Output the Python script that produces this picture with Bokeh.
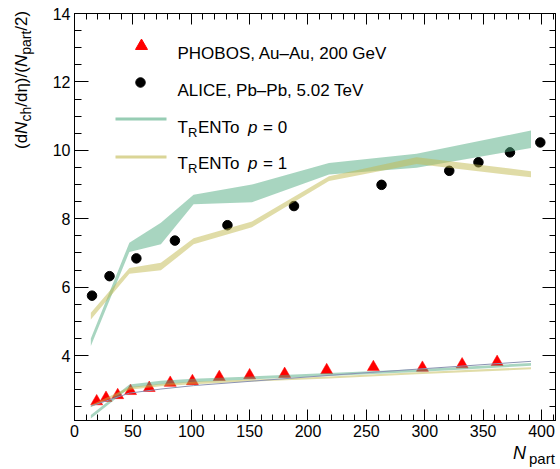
import numpy as np
from bokeh.plotting import figure
from bokeh.layouts import row, column
from bokeh.models import (Range1d, LinearAxis, SingleIntervalTicker, Label,
                          CustomJSTickFormatter, Div)
from bokeh.embed import file_html
from bokeh.resources import INLINE

# ---------------- data ----------------
phobos_npart = [19, 27, 37, 48, 64, 82, 101, 124, 150, 180, 216, 256, 298, 332, 362]
phobos_val = [2.66, 2.76, 2.84, 2.96, 3.05, 3.20, 3.25, 3.37, 3.42, 3.46, 3.57, 3.66, 3.64, 3.74, 3.81]

alice_npart = [15, 30, 53, 86, 131, 188, 263, 321, 346, 373, 399]
alice_val = [5.75, 6.32, 6.84, 7.36, 7.81, 8.37, 8.99, 9.40, 9.65, 9.94, 10.23]

trento_npart = [14, 47, 74, 102, 152, 218, 293, 391]
# 5.02 TeV (upper) bands
p0_hi_lo = [4.28, 7.03, 7.25, 8.42, 8.48, 9.29, 9.49, 10.07]
p0_hi_hi = [4.50, 7.30, 7.88, 8.70, 9.00, 9.63, 9.90, 10.58]
p1_hi_lo = [5.05, 6.39, 6.49, 7.25, 7.75, 9.10, 9.60, 9.21]
p1_hi_hi = [5.25, 6.56, 6.71, 7.43, 7.92, 9.24, 9.80, 9.39]
# 200 GeV (lower) bands
p0_lo_lo = [2.16, 3.05, 3.15, 3.22, 3.30, 3.40, 3.52, 3.70]
p0_lo_hi = [2.26, 3.15, 3.26, 3.32, 3.39, 3.49, 3.60, 3.78]
p1_lo_lo = [2.49, 3.00, 3.10, 3.16, 3.24, 3.33, 3.45, 3.60]
p1_lo_hi = [2.55, 3.08, 3.17, 3.23, 3.30, 3.39, 3.51, 3.66]
ref_line = [2.52, 2.90, 3.02, 3.12, 3.25, 3.42, 3.60, 3.83]

x_ticks_interval = 50
y_ticks_interval = 2

GREEN = "#52ac82"
YELLOW = "#c2b950"
FONT = "Liberation Sans"

# page geometry
YDIV_W = 40                    # column holding the rotated y title
FL, FR, FT, FB = 74, 555, 13, 420   # frame edges in page pixels
PW, PH = 560 - YDIV_W, 447     # figure size
XDIV_H = 469 - PH

p = figure(width=PW, height=PH, output_backend="svg", toolbar_location=None,
           x_range=Range1d(0, 412), y_range=Range1d(2.1, 14),
           min_border_left=FL - YDIV_W, min_border_right=560 - FR,
           min_border_top=FT, min_border_bottom=PH - FB)
p.grid.visible = False
p.outline_line_color = "black"
p.outline_line_width = 1
p.background_fill_color = "white"
p.border_fill_color = "white"
p.margin = 0

p.xaxis.ticker = SingleIntervalTicker(interval=x_ticks_interval, num_minor_ticks=5)
p.yaxis.ticker = SingleIntervalTicker(interval=y_ticks_interval, num_minor_ticks=4)

def style_axis(ax, major_in, minor_in, labels=True):
    ax.major_tick_in = major_in
    ax.major_tick_out = 0
    ax.minor_tick_in = minor_in
    ax.minor_tick_out = 0
    ax.axis_line_color = "black"
    ax.major_tick_line_color = "black"
    ax.minor_tick_line_color = "black"
    ax.major_label_text_font = FONT
    ax.major_label_text_font_size = "16px"
    ax.major_label_text_color = "black"
    ax.major_label_standoff = 4
    if not labels:
        ax.formatter = CustomJSTickFormatter(code="return ''")
        ax.major_label_text_font_size = "0px"
        ax.major_label_standoff = 0

style_axis(p.xaxis[0], 11, 6)
style_axis(p.yaxis[0], 14, 7)
top = LinearAxis(ticker=SingleIntervalTicker(interval=x_ticks_interval, num_minor_ticks=5))
right = LinearAxis(ticker=SingleIntervalTicker(interval=y_ticks_interval, num_minor_ticks=4))
style_axis(top, 11, 6, labels=False)
style_axis(right, 13, 6, labels=False)
p.add_layout(top, "above")
p.add_layout(right, "right")

# ---------------- data marks ----------------
p.scatter(phobos_npart, phobos_val, marker="triangle", size=12,
          fill_color="#ff0000", line_color="#ff0000", line_width=0.5)
p.scatter(alice_npart, alice_val, marker="circle", size=9.5,
          fill_color="black", line_color="black")

p.varea(x=trento_npart, y1=p0_hi_lo, y2=p0_hi_hi, fill_color=GREEN, fill_alpha=0.5)
p.varea(x=trento_npart, y1=p1_hi_lo, y2=p1_hi_hi, fill_color=YELLOW, fill_alpha=0.5)
p.varea(x=trento_npart, y1=p0_lo_lo, y2=p0_lo_hi, fill_color=GREEN, fill_alpha=0.5)
p.varea(x=trento_npart, y1=p1_lo_lo, y2=p1_lo_hi, fill_color=YELLOW, fill_alpha=0.5)
p.line(trento_npart, ref_line, line_color="#8b93b3", line_width=1)

# ---------------- legend (page pixel layout -> data) ----------------
def px2x(px):
    return (px - FL) / (FR - FL) * 412

def py2y(py):
    return 14 - (py - FT) / (FB - FT) * 11.9

p.scatter([px2x(141)], [py2y(45.5)], marker="triangle", size=12,
          fill_color="#ff0000", line_color="#ff0000")
p.scatter([px2x(140)], [py2y(82)], marker="circle", size=9.5,
          fill_color="black", line_color="black")
p.line([px2x(115), px2x(166)], [py2y(118.5)] * 2, line_color=GREEN,
       line_alpha=0.6, line_width=3)
p.line([px2x(115), px2x(166)], [py2y(156.5)] * 2, line_color=YELLOW,
       line_alpha=0.6, line_width=3)

def txt(s, px, py, size, italic=False):
    # canvas units of the figure: x from its left edge, y measured downward
    p.add_layout(Label(x=px - YDIV_W, y=py, x_units="canvas", y_units="canvas",
                       text=s, text_font=FONT, text_font_size=f"{size}px",
                       text_font_style="italic" if italic else "normal",
                       text_baseline="alphabetic", text_align="left",
                       text_color="black", level="overlay"))

LS = 17
txt("PHOBOS, Au–Au, 200 GeV", 177, 53.3, LS)
txt("ALICE, Pb–Pb, 5.02 TeV", 177, 90, LS)
for row_y, pv in [(126.7, "0"), (163.3, "1")]:
    txt("T", 177, row_y, LS)
    txt("R", 187.5, row_y + 5, 13)
    txt("ENTo", 197.5, row_y, LS)
    txt("p", 247.5, row_y, LS, italic=True)
    txt("= " + pv, 262.5, row_y, LS)

# ---------------- axis titles (outside the frame) ----------------
SUB = "position:relative; font-size:14px; top:4px;"
y_html = (
    f'<div style="position:relative; width:{YDIV_W}px; height:469px;">'
    f'<div style="position:absolute; left:12px; top:149px; transform-origin:0 0; '
    f'transform:rotate(-90deg); white-space:nowrap; font-family:\'{FONT}\'; '
    f'font-size:17px; line-height:20px; color:black;">'
    f'(d<i>N</i><span style="{SUB}">ch</span>/dη)/(<i>N</i>'
    f'<span style="{SUB}">part</span>/2)</div></div>'
)
ydiv = Div(text=y_html, width=YDIV_W, height=469, margin=0)

x_html = (
    f'<div style="position:relative; width:{PW}px; height:{XDIV_H}px;">'
    f'<div style="position:absolute; left:{513 - YDIV_W}px; top:-3px; white-space:nowrap; '
    f'font-family:\'{FONT}\'; font-size:18px; line-height:18px; color:black;">'
    f'<i>N</i><span style="position:relative; font-size:15px; top:5px; '
    f'margin-left:3px;">part</span></div></div>'
)
xdiv = Div(text=x_html, width=PW, height=XDIV_H, margin=0)

layout = row(ydiv, column(p, xdiv, spacing=0), spacing=0)

open("out.html", "w").write(file_html(layout, INLINE))
